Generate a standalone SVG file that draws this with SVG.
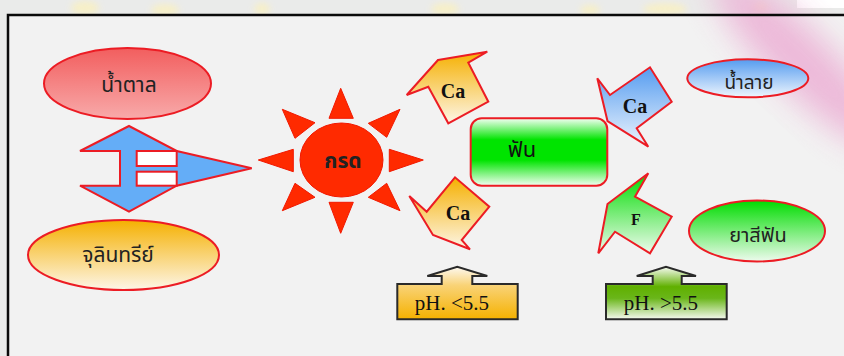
<svg xmlns="http://www.w3.org/2000/svg" width="844" height="356" viewBox="0 0 844 356">
  <defs>
    <style>
      .th { font-family: "Noto Sans Thai", "Tahoma", "DejaVu Sans", sans-serif; fill: #222; text-anchor: middle; }
      .lbl { font-family: "Liberation Serif", "Times New Roman", serif; font-weight: bold; fill: #111; text-anchor: middle; }
      .ph { font-family: "Liberation Serif", "Times New Roman", serif; font-size: 21px; fill: #111; text-anchor: middle; }
      .redline { stroke: #ec1c24; stroke-width: 2; stroke-linejoin: miter; }
      .ray { fill: #ff2a00; stroke: #f21800; stroke-width: 1; }
      .phbox { stroke: #2a2a2a; stroke-width: 2; }
    </style>
    <linearGradient id="gSugar" x1="0" y1="0" x2="0" y2="1">
      <stop offset="0" stop-color="#f25e5e"/>
      <stop offset="1" stop-color="#f8aaaa"/>
    </linearGradient>
    <linearGradient id="gOrange" x1="0" y1="0" x2="0" y2="1">
      <stop offset="0" stop-color="#f5b000"/>
      <stop offset="1" stop-color="#fdf6e8"/>
    </linearGradient>
    <linearGradient id="gBlue" x1="0" y1="0" x2="0" y2="1">
      <stop offset="0" stop-color="#559cf0"/>
      <stop offset="1" stop-color="#eef5fd"/>
    </linearGradient>
    <linearGradient id="gGreen" x1="0" y1="0" x2="0" y2="1">
      <stop offset="0" stop-color="#00dc00"/>
      <stop offset="1" stop-color="#eefbee"/>
    </linearGradient>
    <linearGradient id="gTooth" x1="0" y1="0" x2="0" y2="1">
      <stop offset="0" stop-color="#f4fff4"/>
      <stop offset="0.32" stop-color="#00e400"/>
      <stop offset="0.62" stop-color="#00e400"/>
      <stop offset="1" stop-color="#f4fff4"/>
    </linearGradient>
    <linearGradient id="gPhLow" x1="0" y1="0" x2="0" y2="1">
      <stop offset="0" stop-color="#fdf9f1"/>
      <stop offset="0.35" stop-color="#f9d377"/>
      <stop offset="1" stop-color="#f5b100"/>
    </linearGradient>
    <linearGradient id="gPhHigh" x1="0" y1="0" x2="0" y2="1">
      <stop offset="0" stop-color="#f8fbf4"/>
      <stop offset="0.38" stop-color="#60b000"/>
      <stop offset="0.6" stop-color="#6ab61a"/>
      <stop offset="1" stop-color="#f6faf1"/>
    </linearGradient>
    <filter id="soft" x="-50%" y="-50%" width="200%" height="200%">
      <feGaussianBlur stdDeviation="16"/>
    </filter>
    <filter id="softer" x="-50%" y="-50%" width="200%" height="200%">
      <feGaussianBlur stdDeviation="3"/>
    </filter>
    <clipPath id="panel">
      <rect x="0" y="0" width="844" height="356"/>
    </clipPath>
  </defs>

  <!-- slide background -->
  <rect x="0" y="0" width="844" height="356" fill="#eaebea"/>
  <rect x="797" y="0" width="47" height="8" fill="#ffffff"/>
  <g fill="#fbf1bd" opacity="0.75" filter="url(#softer)">
    <ellipse cx="85" cy="8" rx="14" ry="7"/>
    <ellipse cx="165" cy="10" rx="14" ry="6"/>
    <ellipse cx="262" cy="9" rx="8" ry="6"/>
    <ellipse cx="445" cy="9" rx="14" ry="6"/>
    <ellipse cx="590" cy="10" rx="10" ry="5"/>
    <ellipse cx="665" cy="9" rx="22" ry="6"/>
    <ellipse cx="760" cy="8" rx="8" ry="6"/>
  </g>

  <!-- framed panel -->
  <rect x="8" y="15" width="836" height="341" fill="#f2f2f2"/>
  <g clip-path="url(#panel)">
    <ellipse cx="800" cy="60" rx="30" ry="120" fill="#ecb2d6" opacity="0.9" filter="url(#soft)" transform="rotate(-45 800 60)"/>
  </g>
  <path d="M8,356 V15 H844" fill="none" stroke="#0a0a0a" stroke-width="2.5"/>

  <!-- inputs -->
  <g id="sugar">
    <ellipse cx="127.5" cy="83.5" rx="83.5" ry="35.5" fill="url(#gSugar)" class="redline"/>
    <text x="129" y="92" class="th" font-size="21">น้ำตาล</text>
  </g>
  <g id="microbes">
    <ellipse cx="123.5" cy="255" rx="95.5" ry="35" fill="url(#gOrange)" class="redline"/>
    <text x="118" y="262" class="th" font-size="21">จุลินทรีย์</text>
  </g>

  <!-- acid -->
  <g id="acid">
    <polygon class="ray" points="340.7,88.3 353.3,118.3 329,118.3"/>
    <polygon class="ray" points="340.7,233.3 353.3,202.3 329,202.3"/>
    <polygon class="ray" points="258.3,160 293.3,149.3 293.3,171.7"/>
    <polygon class="ray" points="423.3,160 389.3,149.3 389.3,171.7"/>
    <polygon class="ray" points="282.3,109.3 315,122.7 295,138.3"/>
    <polygon class="ray" points="400,109.3 368.3,123.3 386.7,137.3"/>
    <polygon class="ray" points="282.3,210.7 295,183.3 315,197.3"/>
    <polygon class="ray" points="400,210.7 386.7,183.3 368.3,197.3"/>
    <ellipse cx="341.5" cy="160" rx="41.5" ry="37" fill="#ff2a00" stroke="#f21800" stroke-width="1"/>
    <text x="343" y="168" class="th" font-size="21" font-weight="bold" fill="#1a0000">กรด</text>
  </g>

  <!-- tooth -->
  <g id="tooth">
    <rect x="470.7" y="118.3" width="136.6" height="67.4" rx="11" ry="11" fill="url(#gTooth)" class="redline"/>
    <text x="522" y="157" font-family="Noto Sans Thai, Tahoma, DejaVu Sans, sans-serif" font-size="22" fill="#111" text-anchor="middle">ฟัน</text>
  </g>

  <!-- protective sources -->
  <g id="saliva">
    <ellipse cx="747.8" cy="78.3" rx="60.5" ry="19" fill="url(#gBlue)" class="redline"/>
    <text x="749" y="89" class="th" font-size="19">น้ำลาย</text>
  </g>
  <g id="toothpaste">
    <ellipse cx="757" cy="231" rx="68" ry="30.5" fill="url(#gGreen)" class="redline"/>
    <text x="758" y="242" class="th" font-size="20">ยาสีฟัน</text>
  </g>

  <!-- pH conditions -->
  <g id="ph-low">
    <path class="phbox" fill="url(#gPhLow)" d="M397.3,284 H441.7 V276 H427.3 L457.3,266.7 L487.3,276 H472.3 V284 H517.7 V319.3 H397.3 Z"/>
    <text x="452" y="310" class="ph">pH. &lt;5.5</text>
  </g>
  <g id="ph-high">
    <path class="phbox" fill="url(#gPhHigh)" d="M606,284 H652.7 V276 H636.7 L666,266.7 L696,276 H681.7 V284 H726.7 V319.3 H606 Z"/>
    <text x="661" y="310" class="ph">pH. &gt;5.5</text>
  </g>

  <!-- connectors -->
  <g id="connectors">
    <g id="merge-arrow">
      <polygon class="redline" fill="#64adf7" points="129,126 176.7,151 251.7,168.3 176.7,185.7 129,211.7 80,185.7 120,185.7 120,151 80,151"/>
      <rect x="136.7" y="151" width="40" height="15" fill="#ffffff" class="redline"/>
      <rect x="136.7" y="171.7" width="40" height="14" fill="#ffffff" class="redline"/>
    </g>
    <g id="ca-loss-top">
      <polygon class="redline" fill="url(#gOrange)" points="438,60 487.3,51.7 468.3,62.7 488.3,101.7 448.3,123.3 428.3,86.7 406.7,95"/>
      <text x="453" y="98" class="lbl" font-size="20">Ca</text>
    </g>
    <g id="ca-loss-bottom">
      <polygon class="redline" fill="url(#gOrange)" points="409.3,196 426.7,211.7 455,177.3 489.3,206.7 461.7,240 470,249.3 433,235"/>
      <text x="458" y="220" class="lbl" font-size="20">Ca</text>
    </g>
    <g id="ca-gain">
      <polygon class="redline" fill="url(#gBlue)" points="597.3,78.3 610,95 650,67.3 671.7,101.7 636.7,128.3 648.3,146.7 607.5,121"/>
      <text x="635" y="113" class="lbl" font-size="20">Ca</text>
    </g>
    <g id="f-gain">
      <polygon class="redline" fill="url(#gGreen)" points="648.3,173.3 635,196.7 671.7,216.7 650,253.3 615,231.7 598.3,253.3 607.5,204"/>
      <text x="636" y="225" class="lbl" font-size="16">F</text>
    </g>
  </g>
</svg>
